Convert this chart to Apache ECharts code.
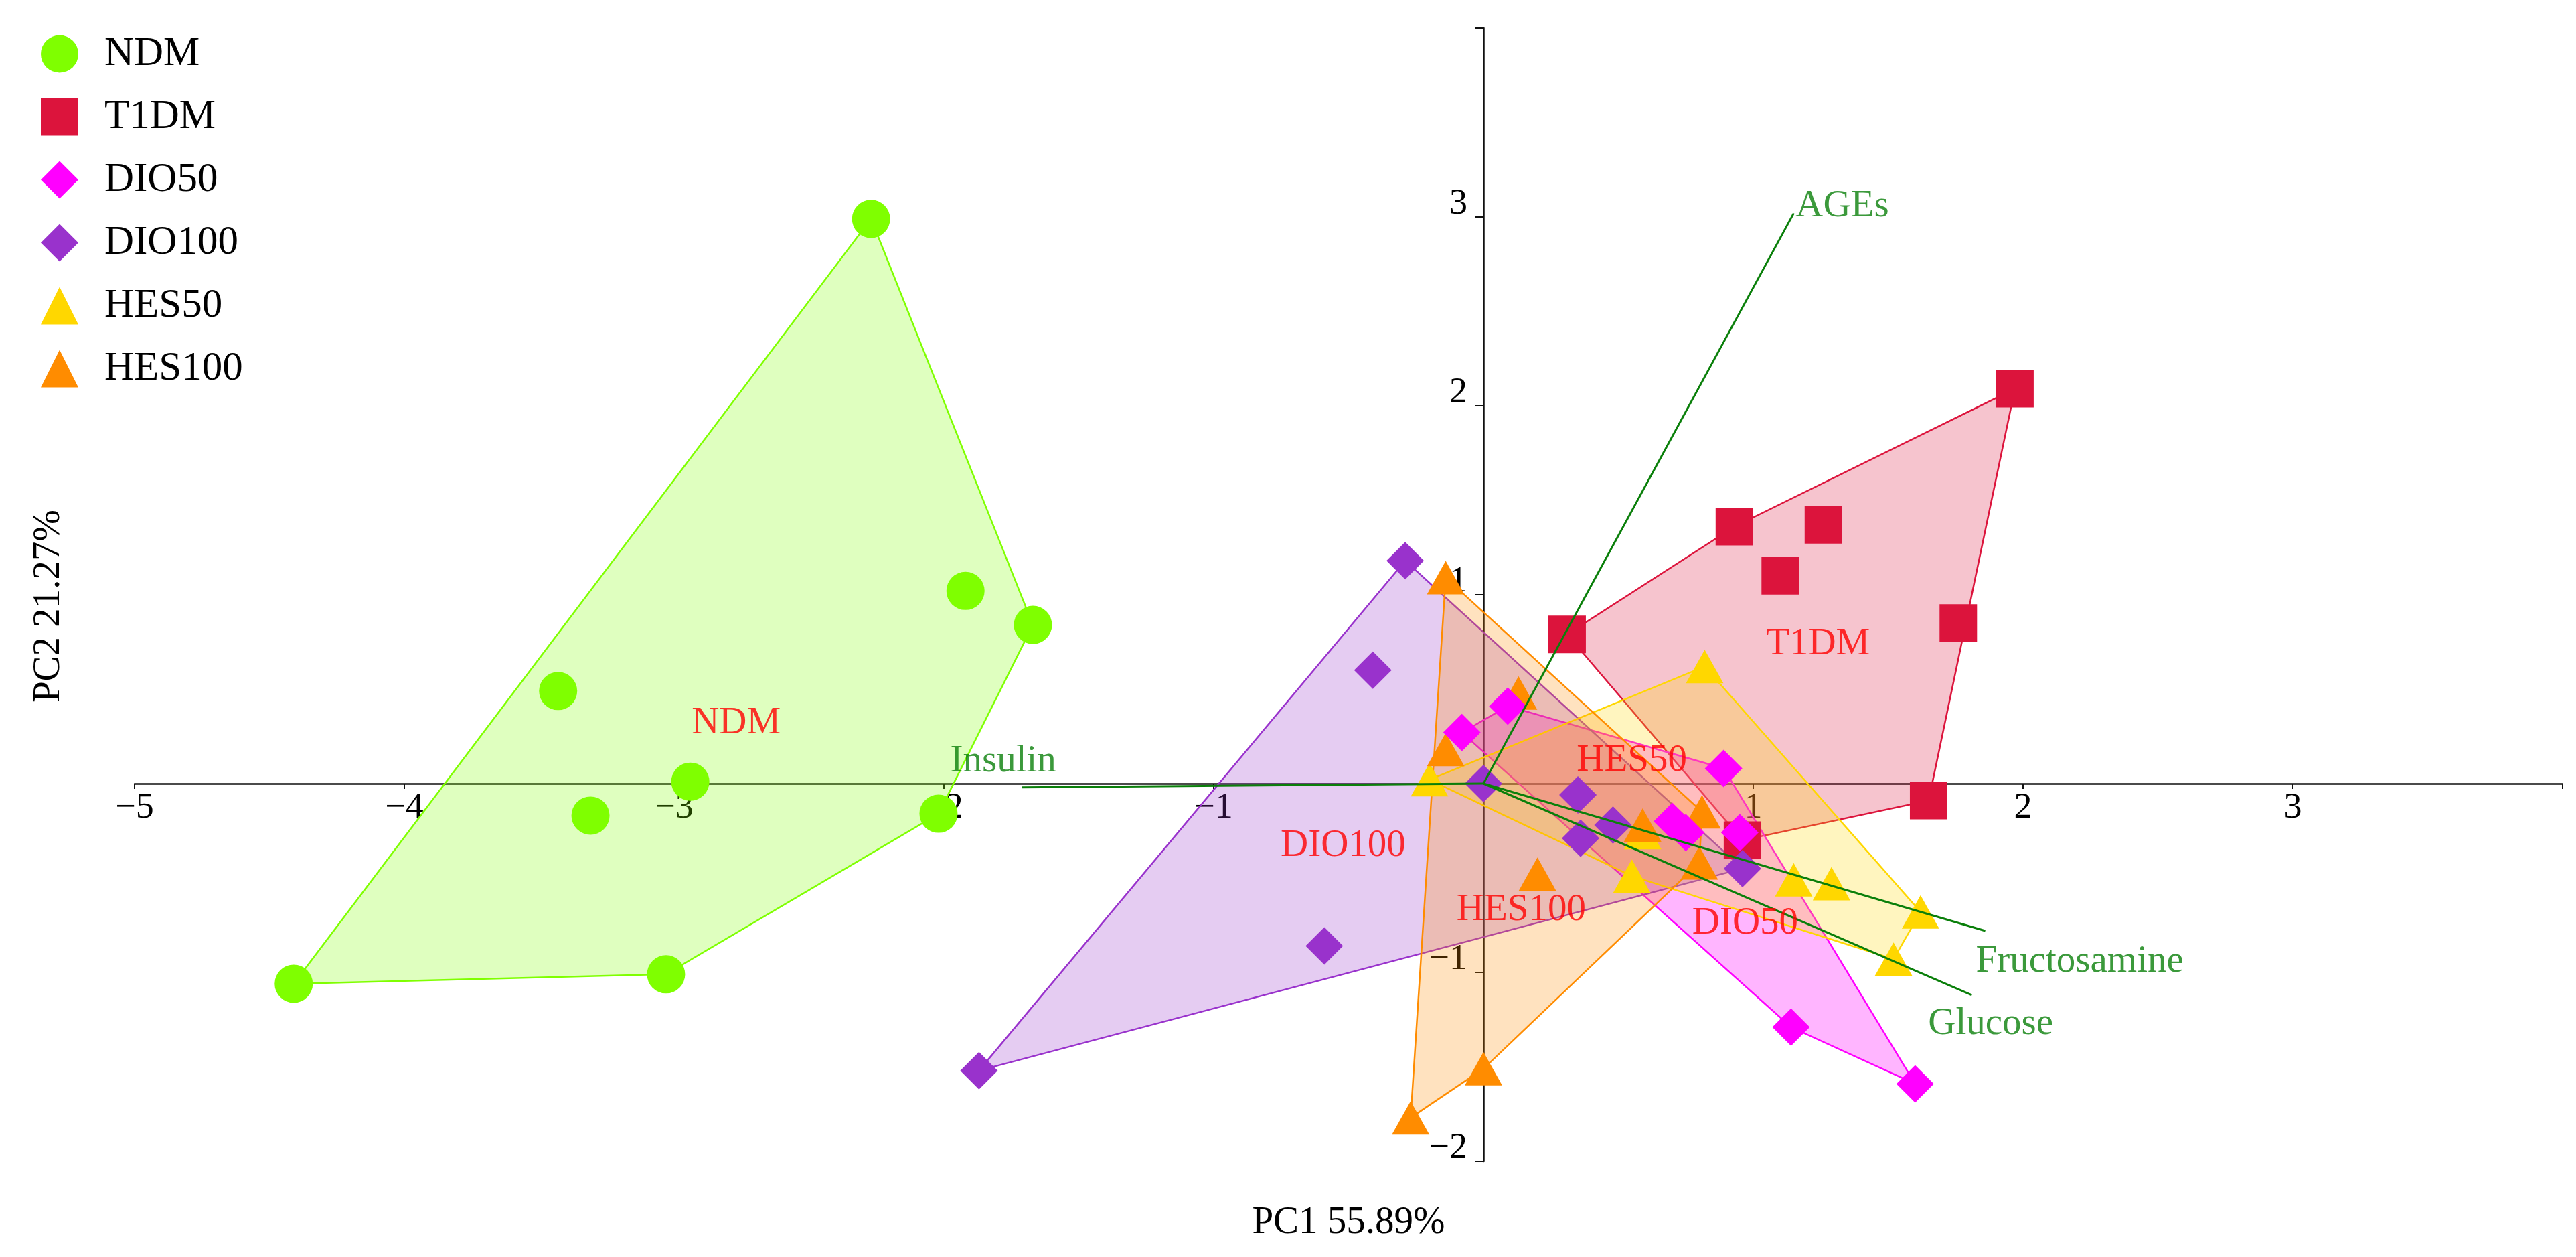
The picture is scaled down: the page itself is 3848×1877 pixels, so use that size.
<!DOCTYPE html>
<html>
<head>
<meta charset="utf-8">
<script src="https://cdn.jsdelivr.net/npm/echarts@6/dist/echarts.min.js"></script>
<style>
html,body{margin:0;padding:0;background:#fff;}
#chart{width:3848px;height:1877px;}
</style>
</head>
<body>
<div id="chart"></div>
<script>
// ---- Data (PCA scores) ----
const groups = ['NDM', 'T1DM', 'DIO50', 'DIO100', 'HES50', 'HES100'];
const ndm = [[-2.27,2.99],[-1.92,1.02],[-1.67,0.84],[-3.43,0.49],[-2.94,0.01],[-3.31,-0.17],[-2.02,-0.16],[-4.41,-1.06],[-3.03,-1.01]];
const t1dm = [[1.97,2.09],[0.93,1.36],[1.26,1.37],[1.10,1.10],[1.76,0.85],[0.31,0.79],[1.65,-0.09],[0.96,-0.30]];
const dio50 = [[-0.08,0.27],[0.09,0.41],[0.89,0.08],[0.70,-0.20],[0.75,-0.26],[0.95,-0.26],[1.14,-1.29],[1.60,-1.59]];
const dio100 = [[-0.29,1.18],[-0.41,0.60],[-0.59,-0.86],[-1.87,-1.52],[0.00,0.00],[0.35,-0.06],[0.36,-0.29],[0.48,-0.22],[0.96,-0.45]];
const hes50 = [[-0.20,0.02],[0.82,0.62],[0.59,-0.26],[0.55,-0.49],[1.15,-0.51],[1.29,-0.53],[1.62,-0.68],[1.52,-0.93]];
const hes100 = [[-0.14,1.09],[0.13,0.48],[-0.14,0.18],[0.20,-0.48],[0.59,-0.22],[0.81,-0.15],[0.80,-0.42],[0.00,-1.51],[-0.27,-1.77]];

// group label positions
const groupLabelPos = [[-2.77,0.34],[1.24,0.76],[0.97,-0.72],[-0.52,-0.31],[0.55,0.14],[0.14,-0.65]];

// loadings (biplot vectors)
const loadingNames = ['AGEs', 'Insulin', 'Fructosamine', 'Glucose'];
const loadingX = [1.15, -1.71, 1.86, 1.81];
const loadingY = [3.02, -0.02, -0.78, -1.12];
const loadingLabelPos = [[1.33,3.08],[-1.78,0.14],[2.21,-0.92],[1.88,-1.25]];

// axes
const xMin = -5, xMax = 4, yMin = -2, yMax = 4;
const xTitle = 'PC1 55.89%';
const yTitle = 'PC2 21.27%';

// ---- Layout & styles ----
const W = 3848, H = 1877;
const GRID = { left: 201, right: 20, top: 42, bottom: 143 };
const gridW = W - GRID.left - GRID.right, gridH = H - GRID.top - GRID.bottom;
// axes cross at the origin: shift each axis from the grid edge to zero
const xAxisOffset = -gridH * (0 - yMin) / (yMax - yMin);
const yAxisOffset = -gridW * (0 - xMin) / (xMax - xMin);

const groupData = [ndm, t1dm, dio50, dio100, hes50, hes100];
const colors = ['#7fff00', '#dc143c', '#ff00ff', '#9932cc', '#ffd700', '#ff8c00'];
const fills = ['rgba(127,255,0,0.25)', 'rgba(220,20,60,0.25)', 'rgba(255,0,255,0.29)', 'rgba(153,50,204,0.25)', 'rgba(255,215,0,0.25)', 'rgba(255,140,0,0.25)'];
const symbols = ['circle', 'rect', 'diamond', 'diamond', 'triangle', 'triangle'];
const sizes = [57, 56, 56, 56, [56, 50], [56, 50]];
const FONT = "'Liberation Serif', 'DejaVu Serif', serif";

function hull(pts) {
  const p = pts.slice().sort((a, b) => a[0] - b[0] || a[1] - b[1]);
  const cross = (o, a, b) => (a[0]-o[0])*(b[1]-o[1]) - (a[1]-o[1])*(b[0]-o[0]);
  const lower = [], upper = [];
  for (const q of p) { while (lower.length >= 2 && cross(lower[lower.length-2], lower[lower.length-1], q) <= 0) lower.pop(); lower.push(q); }
  for (let i = p.length - 1; i >= 0; i--) { const q = p[i]; while (upper.length >= 2 && cross(upper[upper.length-2], upper[upper.length-1], q) <= 0) upper.pop(); upper.push(q); }
  upper.pop(); lower.pop();
  return lower.concat(upper);
}

const series = [];
// hull polygons
groups.forEach((g, i) => {
  const h = hull(groupData[i]);
  series.push({
    name: g + ' hull',
    type: 'custom',
    coordinateSystem: 'cartesian2d',
    xAxisIndex: 0, yAxisIndex: 0,
    z: 1,
    silent: true,
    data: h,
    renderItem: function (params, api) {
      if (params.dataIndex !== 0) return null;
      return {
        type: 'polygon',
        shape: { points: h.map(p => api.coord(p)) },
        style: { fill: fills[i], stroke: colors[i], lineWidth: 2.5 }
      };
    }
  });
});
// points (drawing order so that overlaps look like the reference)
const drawOrder = [0, 1, 3, 4, 5, 2];
drawOrder.forEach((i, k) => {
  series.push({
    name: groups[i],
    type: 'scatter',
    xAxisIndex: 0, yAxisIndex: 0,
    z: 2 + k * 0.01,
    symbol: symbols[i],
    symbolSize: sizes[i],
    itemStyle: { color: colors[i], opacity: 1 },
    data: groupData[i]
  });
});
// loading vectors
series.push({
  name: 'loadings',
  type: 'lines',
  coordinateSystem: 'cartesian2d',
  xAxisIndex: 0, yAxisIndex: 0,
  z: 5,
  silent: true,
  lineStyle: { color: '#0a7f0a', width: 3, opacity: 1 },
  data: loadingNames.map((n, i) => ({ coords: [[0, 0], [loadingX[i], loadingY[i]]] }))
});
// loading labels
series.push({
  name: 'loading labels',
  type: 'scatter',
  xAxisIndex: 0, yAxisIndex: 0,
  z: 6,
  silent: true,
  symbolSize: 0,
  label: {
    show: true, position: 'inside', offset: [0, 7],
    formatter: p => loadingNames[p.dataIndex],
    color: '#0a7f0a', fontFamily: FONT, fontSize: 57
  },
  data: loadingLabelPos
});
// group labels
series.push({
  name: 'group labels',
  type: 'scatter',
  xAxisIndex: 0, yAxisIndex: 0,
  z: 6,
  silent: true,
  symbolSize: 0,
  label: {
    show: true, position: 'inside', offset: [0, 6],
    formatter: p => groups[p.dataIndex],
    color: '#ff0000', fontFamily: FONT, fontSize: 57
  },
  data: groupLabelPos
});

const tickFmt = v => (v === 0 || v === xMax || v === yMax) ? '' : String(v).replace('-', '\u2212');

const option = {
  backgroundColor: '#ffffff',
  animation: false,
  grid: { left: GRID.left, right: GRID.right, top: GRID.top, bottom: GRID.bottom, containLabel: false },
  legend: {
    orient: 'vertical',
    left: 56, top: 45,
    itemWidth: 56, itemHeight: 56, itemGap: 33,
    data: groups,
    textStyle: { fontFamily: FONT, fontSize: 61, color: '#000', padding: [0, 0, 0, 34] },
    selectedMode: false
  },
  xAxis: [
    {
      type: 'value', min: xMin, max: xMax, interval: 1,
      position: 'bottom', offset: xAxisOffset,
      axisLine: { show: true, onZero: false, lineStyle: { color: '#111', width: 2.5 } },
      axisTick: { show: true, length: 8, lineStyle: { color: '#111', width: 2 } },
      axisLabel: { show: true, margin: 10, formatter: tickFmt, fontFamily: FONT, fontSize: 54, color: '#000', lineHeight: 54 },
      splitLine: { show: false }
    },
    {
      type: 'value', min: xMin, max: xMax, position: 'bottom',
      axisLine: { show: false, onZero: false },
      axisTick: { show: false }, axisLabel: { show: false }, splitLine: { show: false },
      name: xTitle, nameLocation: 'middle', nameGap: 64,
      nameTextStyle: { fontFamily: FONT, fontSize: 57, color: '#000' }
    }
  ],
  yAxis: [
    {
      type: 'value', min: yMin, max: yMax, interval: 1,
      position: 'left', offset: yAxisOffset,
      axisLine: { show: true, onZero: false, lineStyle: { color: '#111', width: 2.5 } },
      axisTick: { show: true, length: 13, lineStyle: { color: '#111', width: 2 } },
      axisLabel: { show: true, margin: 24, formatter: tickFmt, fontFamily: FONT, fontSize: 54, color: '#000', verticalAlign: 'bottom', lineHeight: 38 },
      splitLine: { show: false }
    },
    {
      type: 'value', min: yMin, max: yMax, position: 'left',
      axisLine: { show: false, onZero: false },
      axisTick: { show: false }, axisLabel: { show: false }, splitLine: { show: false },
      name: yTitle, nameLocation: 'middle', nameGap: 99, nameRotate: 90,
      nameTextStyle: { fontFamily: FONT, fontSize: 57, color: '#000', padding: [0, 34, 0, 0] }
    }
  ],
  series: series
};

const chart = echarts.init(document.getElementById('chart'), null, { renderer: 'canvas' });
chart.setOption(option);
</script>
</body>
</html>
